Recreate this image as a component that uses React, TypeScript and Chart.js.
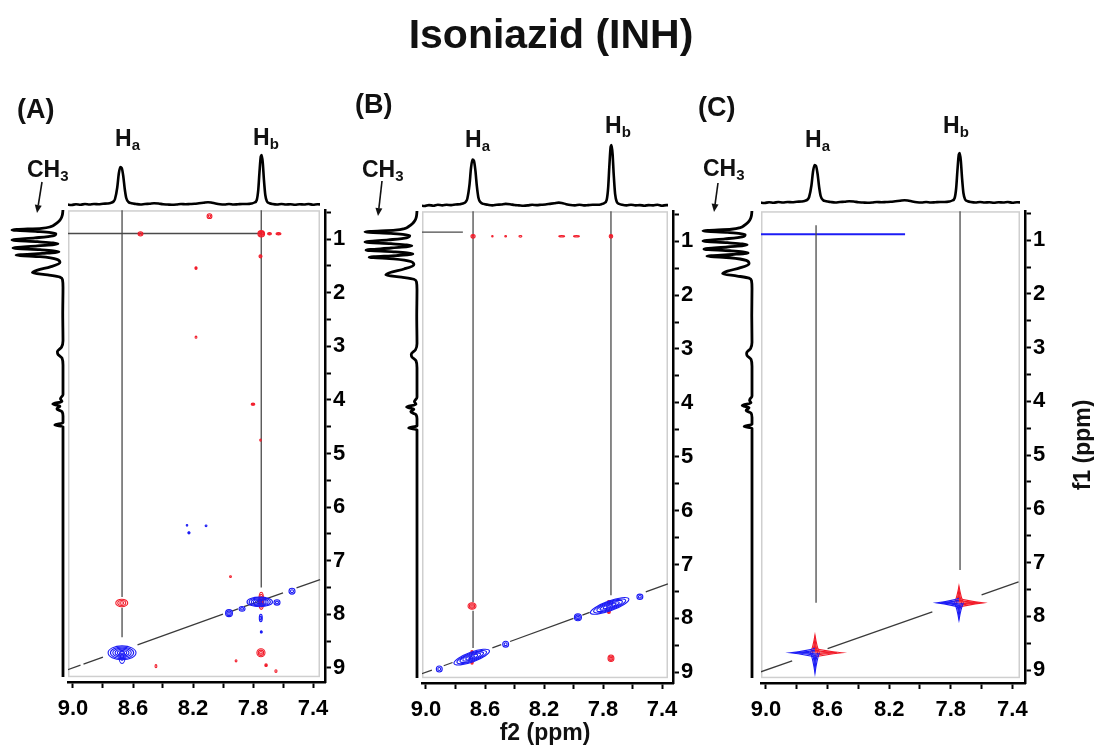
import React, { useEffect, useRef } from 'react';
import { Chart, registerables } from 'chart.js';

Chart.register(...registerables);

const FONT = '"Liberation Sans", Arial, Helvetica, sans-serif';
Chart.defaults.font.family = FONT;

// ---------------- text ----------------
const TITLE = 'Isoniazid (INH)';
const PANEL_LABELS = ['(A)', '(B)', '(C)'];
const X_TITLE = 'f2 (ppm)';
const Y_TITLE = 'f1 (ppm)';

// ---------------- axis ticks ----------------
const X_TICKS = [9.0, 8.8, 8.6, 8.4, 8.2, 8.0, 7.8, 7.6, 7.4];
const X_TICK_LABELS = ['9.0', '', '8.6', '', '8.2', '', '7.8', '', '7.4'];
const Y_TICKS = [0.5, 1, 1.5, 2, 2.5, 3, 3.5, 4, 4.5, 5, 5.5, 6, 6.5, 7, 7.5, 8, 8.5, 9];
const Y_TICK_LABELS = ['', '1', '', '2', '', '3', '', '4', '', '5', '', '6', '', '7', '', '8', '', '9'];

// ---------------- 1D projections: [ppm, relative intensity] ----------------
const TOP_SPECTRUM: number[][] = [
  [9.04, 0.01], [9.01, 0.0], [8.98, 0.015], [8.95, 0.005], [8.92, 0.02], [8.89, 0.01], [8.86, 0.02],
  [8.83, 0.015], [8.8, 0.025], [8.77, 0.03], [8.75, 0.04], [8.73, 0.07], [8.72, 0.12], [8.705, 0.35],
  [8.695, 0.62], [8.685, 0.76], [8.675, 0.74], [8.665, 0.58], [8.655, 0.32], [8.645, 0.14], [8.63, 0.06],
  [8.61, 0.035], [8.58, 0.02], [8.55, 0.01], [8.52, 0.02], [8.49, 0.025], [8.46, 0.035], [8.43, 0.03],
  [8.4, 0.015], [8.37, 0.01], [8.34, 0.005], [8.31, 0.01], [8.28, 0.02], [8.25, 0.015], [8.22, 0.02],
  [8.19, 0.025], [8.16, 0.035], [8.13, 0.045], [8.1, 0.055], [8.08, 0.05], [8.05, 0.03], [8.02, 0.015],
  [7.99, 0.01], [7.96, 0.02], [7.93, 0.01], [7.9, 0.015], [7.87, 0.02], [7.84, 0.02], [7.81, 0.03],
  [7.79, 0.05], [7.775, 0.1], [7.765, 0.3], [7.757, 0.65], [7.748, 0.97], [7.742, 1.0], [7.735, 0.85],
  [7.727, 0.5], [7.718, 0.2], [7.707, 0.07], [7.69, 0.035], [7.67, 0.02], [7.64, 0.01], [7.61, 0.02],
  [7.58, 0.01], [7.55, 0.015], [7.52, 0.005], [7.49, 0.015], [7.46, 0.01], [7.43, 0.02], [7.4, 0.005],
  [7.37, 0.015], [7.34, 0.01],
];

const LEFT_SPECTRUM: number[][] = [
  [0.44, 0.0], [0.5, 0.005], [0.56, 0.015], [0.62, 0.04], [0.68, 0.09], [0.73, 0.16], [0.77, 0.24],
  [0.8, 0.42], [0.83, 1.0], [0.86, 0.5], [0.9, 0.14], [0.94, 0.2], [0.98, 0.55], [1.02, 1.0], [1.05, 0.5],
  [1.09, 0.1], [1.13, 0.5], [1.17, 0.98], [1.2, 0.45], [1.24, 0.08], [1.27, 0.4], [1.3, 0.92], [1.33, 0.45],
  [1.38, 0.12], [1.44, 0.06], [1.52, 0.25], [1.58, 0.5], [1.63, 0.6], [1.67, 0.3], [1.71, 0.06], [1.76, 0.01],
  [1.9, 0.0], [2.4, 0.005], [2.9, 0.0], [3.02, 0.03], [3.1, 0.11], [3.15, 0.1], [3.22, 0.02], [3.35, 0.0],
  [3.9, 0.0], [3.98, 0.05], [4.03, 0.02], [4.08, 0.2], [4.12, 0.06], [4.17, 0.12], [4.22, 0.02], [4.3, 0.0],
  [4.43, 0.0], [4.47, 0.16], [4.5, 0.0], [5.5, 0.0], [7.0, 0.0], [8.5, 0.0], [9.3, 0.0],
];

// ---------------- 2D cross peaks: [f2, f1, half-width f2, half-width f1, contour levels, along diagonal] ----------------
const A_POSITIVE: number[][] = [
  [8.09, 0.57, 0.016, 0.045, 2], [8.55, 0.9, 0.016, 0.04, 2], [7.745, 0.9, 0.022, 0.06, 4],
  [7.69, 0.9, 0.013, 0.022, 2], [7.63, 0.9, 0.016, 0.022, 2], [7.75, 1.32, 0.01, 0.03, 2],
  [8.18, 1.54, 0.007, 0.025, 2], [8.18, 2.83, 0.006, 0.02, 1], [7.8, 4.08, 0.012, 0.02, 2],
  [7.75, 4.75, 0.005, 0.02, 1], [8.675, 7.79, 0.04, 0.07, 3], [7.745, 7.75, 0.016, 0.16, 4],
  [7.747, 8.72, 0.027, 0.075, 3], [8.447, 8.97, 0.006, 0.03, 1], [7.913, 8.87, 0.006, 0.02, 1],
  [7.713, 8.95, 0.008, 0.025, 2], [7.647, 9.06, 0.007, 0.025, 1], [7.95, 7.3, 0.006, 0.015, 1],
];
const A_NEGATIVE: number[][] = [
  [8.673, 8.72, 0.093, 0.13, 6], [8.673, 8.8, 0.02, 0.12, 2],
  [7.755, 7.77, 0.085, 0.09, 6], [7.64, 7.78, 0.02, 0.05, 2], [7.873, 7.9, 0.02, 0.045, 2],
  [7.96, 7.98, 0.023, 0.065, 3], [7.54, 7.57, 0.02, 0.055, 2], [7.748, 8.07, 0.01, 0.07, 2],
  [7.745, 8.33, 0.006, 0.02, 2], [8.24, 6.34, 0.005, 0.015, 1], [8.227, 6.48, 0.007, 0.02, 2],
  [8.113, 6.35, 0.006, 0.015, 1],
];
const B_POSITIVE: number[][] = [
  [8.681, 0.91, 0.014, 0.035, 2], [8.55, 0.91, 0.004, 0.012, 1], [8.46, 0.91, 0.006, 0.012, 1],
  [8.36, 0.91, 0.01, 0.015, 1], [8.08, 0.91, 0.02, 0.012, 1], [7.98, 0.91, 0.02, 0.012, 1],
  [7.746, 0.91, 0.012, 0.035, 2], [8.688, 7.77, 0.027, 0.06, 3], [7.746, 8.74, 0.02, 0.06, 3],
  [8.688, 8.63, 0.008, 0.03, 2], [8.688, 8.82, 0.008, 0.03, 2], [7.76, 7.7, 0.01, 0.03, 2],
  [7.76, 7.88, 0.01, 0.03, 2],
];
const B_NEGATIVE: number[][] = [
  [8.69, 8.72, 0.12, 0.09, 6, 1], [7.755, 7.77, 0.13, 0.09, 6, 1],
  [8.91, 8.94, 0.02, 0.055, 2], [8.46, 8.48, 0.02, 0.055, 2], [7.97, 7.98, 0.024, 0.065, 3],
  [7.55, 7.6, 0.02, 0.05, 2],
];
// panel C: contour arms [centre f2, centre f1, tip f2, tip f1]
const C_POSITIVE_ARMS: number[][] = [
  [8.682, 8.68, 8.507, 8.68], [8.682, 8.68, 8.682, 8.35],
  [7.747, 7.75, 7.59, 7.75], [7.747, 7.75, 7.747, 7.44],
];
const C_NEGATIVE_ARMS: number[][] = [
  [8.682, 8.68, 8.844, 8.68], [8.682, 8.68, 8.682, 9.06],
  [7.747, 7.75, 7.89, 7.75], [7.747, 7.75, 7.747, 8.07],
];

// ---------------- guide lines [f2a, f1a, f2b, f1b] ----------------
const A_GUIDES: number[][] = [
  [8.673, 0.45, 8.673, 7.68], [8.673, 7.88, 8.673, 8.43], [7.745, 0.45, 7.745, 7.5], [9.04, 0.894, 7.745, 0.894],
];
const B_GUIDES: number[][] = [
  [8.681, 0.44, 8.681, 7.7], [8.681, 7.86, 8.681, 8.55], [7.746, 0.44, 7.746, 7.57], [9.04, 0.83, 8.75, 0.83],
];
const C_GUIDES: number[][] = [[8.675, 0.72, 8.675, 7.75], [7.74, 0.45, 7.74, 7.14]];
const C_CH3_TRACE: number[][] = [[9.04, 0.89, 8.097, 0.89]];
// diagonal pieces [f2 from, f2 to] (f1 = f2)
const A_DIAGONAL: number[][] = [[9.04, 8.95], [8.93, 8.8], [8.57, 8.0], [7.94, 7.9], [7.86, 7.6], [7.51, 7.353]];
const B_DIAGONAL: number[][] = [[9.04, 8.96], [8.88, 8.82], [8.55, 8.49], [8.43, 8.0], [7.94, 7.89], [7.51, 7.36]];
const C_DIAGONAL: number[][] = [[9.04, 8.83], [8.6, 7.92], [7.6, 7.36]];

// ---------------- layout ----------------
type Geo = {
  x0: number; xk: number; y1: number; yk: number; boxL: number; boxT: number; boxR: number; boxB: number;
  axisX: number; axisY: number; topBase: number; topK: number; leftBase: number; leftK: number;
};
const GEO_A: Geo = { x0: 73, xk: 150, y1: 239, yk: 53.6, boxL: 68, boxT: 210, boxR: 320, boxB: 677, axisX: 325, axisY: 682, topBase: 205, topK: 50, leftBase: 63, leftK: 51 };
const GEO_B: Geo = { x0: 426, xk: 147.5, y1: 241, yk: 53.9, boxL: 422, boxT: 211, boxR: 668, boxB: 678, axisX: 673, axisY: 683, topBase: 206, topK: 61, leftBase: 417, leftK: 52 };
const GEO_C: Geo = { x0: 766, xk: 154, y1: 240, yk: 53.75, boxL: 761, boxT: 211, boxR: 1020, boxB: 678, axisX: 1025, axisY: 683, topBase: 203, topK: 50, leftBase: 752, leftK: 49 };

const PAD_L = 25, PAD_T = 15, Y_AXIS_W = 50, X_AXIS_H = 45;
const TOP_H = 75, TOP_BELOW = 6, LEFT_W = 58, LEFT_RIGHT = 4;
const BLUE = '#1c1cf5';
const RED = '#f21c2a';
const GUIDE = '#4a4a4a';

const f2At = (g: Geo, px: number) => 9 - (px - g.x0) / g.xk;
const f1At = (g: Geo, py: number) => 1 + (py - g.y1) / g.yk;

// ---------------- plugins ----------------
const plotBoxPlugin = {
  id: 'plotBox',
  beforeDatasetsDraw(chart: any, _a: any, opts: any) {
    const { ctx, chartArea } = chart;
    ctx.save();
    ctx.strokeStyle = '#cfcfcf';
    ctx.lineWidth = 1.5;
    ctx.strokeRect(chartArea.left + 0.75, chartArea.top + 0.75, opts.w - 1.5, opts.h - 1.5);
    ctx.restore();
  },
};

const contourPlugin = {
  id: 'nmrContours',
  afterDatasetsDraw(chart: any) {
    const { ctx, chartArea, scales } = chart;
    const xs = scales.x, ys = scales.y;
    ctx.save();
    ctx.beginPath();
    ctx.rect(chartArea.left, chartArea.top, chartArea.right - chartArea.left, chartArea.bottom - chartArea.top);
    ctx.clip();
    chart.data.datasets.forEach((ds: any) => {
      if (ds.nmrKind === 'peak') {
        ctx.strokeStyle = ds.nmrColor;
        ctx.lineWidth = 1.1;
        ds.data.forEach((p: any) => {
          const cx = xs.getPixelForValue(p.x), cy = ys.getPixelForValue(p.y);
          let rx: number, ry: number, ang = 0;
          if (p.tilt) {
            const dx = xs.getPixelForValue(p.x - p.w2) - cx;
            const dy = ys.getPixelForValue(p.y - p.w2) - cy;
            rx = Math.hypot(dx, dy);
            ang = Math.atan2(dy, dx);
            ry = Math.abs(ys.getPixelForValue(p.y + p.w1) - cy);
          } else {
            rx = Math.abs(xs.getPixelForValue(p.x + p.w2) - cx);
            ry = Math.abs(ys.getPixelForValue(p.y + p.w1) - cy);
          }
          for (let k = p.n; k >= 1; k--) {
            const f = k / p.n;
            ctx.beginPath();
            ctx.ellipse(cx, cy, Math.max(rx * f, 0.7), Math.max(ry * f, 0.7), ang, 0, Math.PI * 2);
            ctx.stroke();
          }
        });
      } else if (ds.nmrKind === 'arm') {
        ctx.strokeStyle = ds.nmrColor;
        ctx.lineWidth = 1.1;
        ds.data.forEach((a: any) => {
          const cx = xs.getPixelForValue(a.x), cy = ys.getPixelForValue(a.y);
          const tx = xs.getPixelForValue(a.tx), ty = ys.getPixelForValue(a.ty);
          const L = Math.hypot(tx - cx, ty - cy);
          const ux = (tx - cx) / L, uy = (ty - cy) / L;
          const nx = -uy, ny = ux;
          [1, 0.6, 0.25].forEach((k) => {
            const w = 4.5 * k, l = L * (0.55 + 0.45 * k);
            ctx.beginPath();
            ctx.moveTo(cx + nx * w, cy + ny * w);
            ctx.quadraticCurveTo(cx + ux * l * 0.3 + nx * w * 0.45, cy + uy * l * 0.3 + ny * w * 0.45, cx + ux * l, cy + uy * l);
            ctx.quadraticCurveTo(cx + ux * l * 0.3 - nx * w * 0.45, cy + uy * l * 0.3 - ny * w * 0.45, cx - nx * w, cy - ny * w);
            ctx.stroke();
          });
        });
      }
    });
    ctx.restore();
  },
};

// ---------------- dataset helpers ----------------
const segment = (s: number[], color: string, width: number) => ({
  data: [{ x: s[0], y: s[1] }, { x: s[2], y: s[3] }],
  showLine: true, borderColor: color, borderWidth: width, pointRadius: 0,
});
const diagSegment = (s: number[]) => segment([s[0], s[0], s[1], s[1]], '#3a3a3a', 1.3);
const peakSet = (arr: number[][], color: string) => ({
  data: arr.map((p) => ({ x: p[0], y: p[1], w2: p[2], w1: p[3], n: p[4], tilt: !!p[5] })),
  nmrKind: 'peak', nmrColor: color, pointRadius: 0, showLine: false,
});
const armSet = (arr: number[][], color: string) => ({
  data: arr.map((a) => ({ x: a[0], y: a[1], tx: a[2], ty: a[3] })),
  nmrKind: 'arm', nmrColor: color, pointRadius: 0, showLine: false,
});

type PanelProps = { geo: Geo; datasets: any[] };

function NmrPanel({ geo: g, datasets }: PanelProps) {
  const mainRef = useRef<HTMLCanvasElement>(null);
  const topRef = useRef<HTMLCanvasElement>(null);
  const leftRef = useRef<HTMLCanvasElement>(null);

  const mainBox = { left: g.boxL - PAD_L, top: g.boxT - PAD_T, width: PAD_L + (g.axisX - g.boxL) + Y_AXIS_W, height: PAD_T + (g.axisY - g.boxT) + X_AXIS_H };
  const topBox = { left: g.boxL, top: g.topBase - TOP_H, width: g.boxR - g.boxL, height: TOP_H + TOP_BELOW };
  const leftBox = { left: g.leftBase - LEFT_W, top: g.boxT, width: LEFT_W + LEFT_RIGHT, height: g.boxB - g.boxT };

  useEffect(() => {
    const charts: Chart[] = [];
    const tickFont = { size: 22, weight: 'bold' as const, family: FONT };
    charts.push(new Chart(mainRef.current as HTMLCanvasElement, {
      type: 'scatter',
      data: { datasets },
      options: {
        animation: false, responsive: false, devicePixelRatio: 1, events: [],
        layout: { padding: { left: PAD_L, top: PAD_T, right: 0, bottom: 0 } },
        plugins: { legend: { display: false }, tooltip: { enabled: false }, plotBox: { w: g.boxR - g.boxL, h: g.boxB - g.boxT } } as any,
        scales: {
          x: {
            type: 'linear', position: 'bottom', reverse: true,
            min: f2At(g, g.axisX), max: f2At(g, g.boxL),
            afterBuildTicks: (s: any) => { s.ticks = X_TICKS.map((v) => ({ value: v })); },
            afterFit: (s: any) => { s.height = X_AXIS_H; },
            ticks: { autoSkip: false, maxRotation: 0, minRotation: 0, padding: 8, color: '#000', font: tickFont, callback: (_v: any, i: number) => X_TICK_LABELS[i] },
            grid: { drawOnChartArea: false, drawTicks: true, tickLength: 6, tickWidth: 2, color: '#000' },
            border: { display: true, color: '#000', width: 2.5 },
          },
          y: {
            type: 'linear', position: 'right', reverse: true,
            min: f1At(g, g.boxT), max: f1At(g, g.axisY),
            afterBuildTicks: (s: any) => { s.ticks = Y_TICKS.map((v) => ({ value: v })); },
            afterFit: (s: any) => { s.width = Y_AXIS_W; },
            ticks: { autoSkip: false, padding: 2, color: '#000', font: tickFont, callback: (_v: any, i: number) => Y_TICK_LABELS[i] },
            grid: { drawOnChartArea: false, drawTicks: true, tickLength: 6, tickWidth: 2, color: '#000' },
            border: { display: true, color: '#000', width: 2.5 },
          },
        },
      },
      plugins: [plotBoxPlugin, contourPlugin],
    } as any));

    charts.push(new Chart(topRef.current as HTMLCanvasElement, {
      type: 'scatter',
      data: {
        datasets: [{
          data: TOP_SPECTRUM.map(([x, y]) => ({ x, y })), showLine: true, borderColor: '#000', borderWidth: 2.6,
          pointRadius: 0, cubicInterpolationMode: 'monotone',
        }],
      },
      options: {
        animation: false, responsive: false, devicePixelRatio: 1, events: [],
        layout: { padding: 0 },
        plugins: { legend: { display: false }, tooltip: { enabled: false } },
        scales: {
          x: { type: 'linear', display: false, reverse: true, min: f2At(g, g.boxR), max: f2At(g, g.boxL) },
          y: { type: 'linear', display: false, min: -TOP_BELOW / g.topK, max: TOP_H / g.topK },
        },
      },
    } as any));

    charts.push(new Chart(leftRef.current as HTMLCanvasElement, {
      type: 'scatter',
      data: {
        datasets: [{
          data: LEFT_SPECTRUM.map(([y, x]) => ({ x, y })), showLine: true, borderColor: '#000', borderWidth: 2.8,
          pointRadius: 0, cubicInterpolationMode: 'monotone',
        }],
      },
      options: {
        animation: false, responsive: false, devicePixelRatio: 1, events: [], indexAxis: 'y',
        layout: { padding: 0 },
        plugins: { legend: { display: false }, tooltip: { enabled: false } },
        scales: {
          x: { type: 'linear', display: false, reverse: true, min: -LEFT_RIGHT / g.leftK, max: LEFT_W / g.leftK },
          y: { type: 'linear', display: false, reverse: true, min: f1At(g, g.boxT), max: f1At(g, g.boxB) },
        },
      },
    } as any));

    return () => charts.forEach((c) => c.destroy());
  }, []);

  const abs = (b: any) => ({ position: 'absolute' as const, left: b.left, top: b.top, width: b.width, height: b.height });
  return (
    <>
      <canvas ref={leftRef} width={leftBox.width} height={leftBox.height} style={abs(leftBox)} />
      <canvas ref={topRef} width={topBox.width} height={topBox.height} style={abs(topBox)} />
      <canvas ref={mainRef} width={mainBox.width} height={mainBox.height} style={abs(mainBox)} />
    </>
  );
}

function Txt({ x, base, size, children, center }: any) {
  return (
    <div style={{
      position: 'absolute', left: x, top: base - 0.8465 * size, fontSize: size, lineHeight: 1, fontWeight: 700,
      fontFamily: FONT, color: '#111', whiteSpace: 'nowrap', transform: center ? 'translateX(-50%)' : undefined,
    }}>{children}</div>
  );
}
const Sub = ({ children }: any) => (
  <span style={{ fontSize: 15, position: 'relative', top: 4 }}>{children}</span>
);

function Arrow({ x1, y1, x2, y2 }: any) {
  const L = Math.hypot(x2 - x1, y2 - y1);
  const ux = (x2 - x1) / L, uy = (y2 - y1) / L;
  const bx = x2 - ux * 8, by = y2 - uy * 8;
  const pts = `${x2},${y2} ${bx - uy * 3.5},${by + ux * 3.5} ${bx + uy * 3.5},${by - ux * 3.5}`;
  return (
    <g>
      <line x1={x1} y1={y1} x2={bx} y2={by} stroke="#111" strokeWidth={1.6} />
      <polygon points={pts} fill="#111" />
    </g>
  );
}

export default function App() {
  const dsA = [
    ...A_GUIDES.map((s) => segment(s, GUIDE, 1.3)),
    ...A_DIAGONAL.map(diagSegment),
    peakSet(A_POSITIVE, RED),
    peakSet(A_NEGATIVE, BLUE),
  ];
  const dsB = [
    ...B_GUIDES.map((s) => segment(s, GUIDE, 1.3)),
    ...B_DIAGONAL.map(diagSegment),
    peakSet(B_POSITIVE, RED),
    peakSet(B_NEGATIVE, BLUE),
  ];
  const dsC = [
    ...C_GUIDES.map((s) => segment(s, GUIDE, 1.3)),
    ...C_CH3_TRACE.map((s) => segment(s, BLUE, 2)),
    ...C_DIAGONAL.map(diagSegment),
    armSet(C_POSITIVE_ARMS, RED),
    armSet(C_NEGATIVE_ARMS, BLUE),
  ];

  return (
    <div style={{ position: 'absolute', left: 0, top: 0, width: 1094, height: 749, background: '#fff', overflow: 'hidden', fontFamily: FONT }}>
      <NmrPanel geo={GEO_A} datasets={dsA} />
      <NmrPanel geo={GEO_B} datasets={dsB} />
      <NmrPanel geo={GEO_C} datasets={dsC} />

      <svg width={1094} height={749} style={{ position: 'absolute', left: 0, top: 0, pointerEvents: 'none' }}>
        <Arrow x1={42} y1={182} x2={37} y2={213} />
        <Arrow x1={382} y1={181} x2={378} y2={216} />
        <Arrow x1={718} y1={183} x2={714} y2={212} />
      </svg>

      <Txt x={551} base={49} size={41} center>{TITLE}</Txt>

      <Txt x={17} base={119} size={27}>{PANEL_LABELS[0]}</Txt>
      <Txt x={355} base={114} size={27}>{PANEL_LABELS[1]}</Txt>
      <Txt x={698} base={117} size={27}>{PANEL_LABELS[2]}</Txt>

      <Txt x={115} base={146} size={23}>H<Sub>a</Sub></Txt>
      <Txt x={253} base={145} size={23}>H<Sub>b</Sub></Txt>
      <Txt x={465} base={147} size={23}>H<Sub>a</Sub></Txt>
      <Txt x={605} base={133} size={23}>H<Sub>b</Sub></Txt>
      <Txt x={805} base={147} size={23}>H<Sub>a</Sub></Txt>
      <Txt x={943} base={133} size={23}>H<Sub>b</Sub></Txt>

      <Txt x={27} base={177} size={23}>CH<Sub>3</Sub></Txt>
      <Txt x={362} base={177} size={23}>CH<Sub>3</Sub></Txt>
      <Txt x={703} base={176} size={23}>CH<Sub>3</Sub></Txt>

      <Txt x={545} base={740} size={23} center>{X_TITLE}</Txt>
      <div style={{
        position: 'absolute', left: 1082, top: 445, fontSize: 23, lineHeight: 1, fontWeight: 700, fontFamily: FONT,
        color: '#111', whiteSpace: 'nowrap', transform: 'translate(-50%, -50%) rotate(-90deg)',
      }}>{Y_TITLE}</div>
    </div>
  );
}
